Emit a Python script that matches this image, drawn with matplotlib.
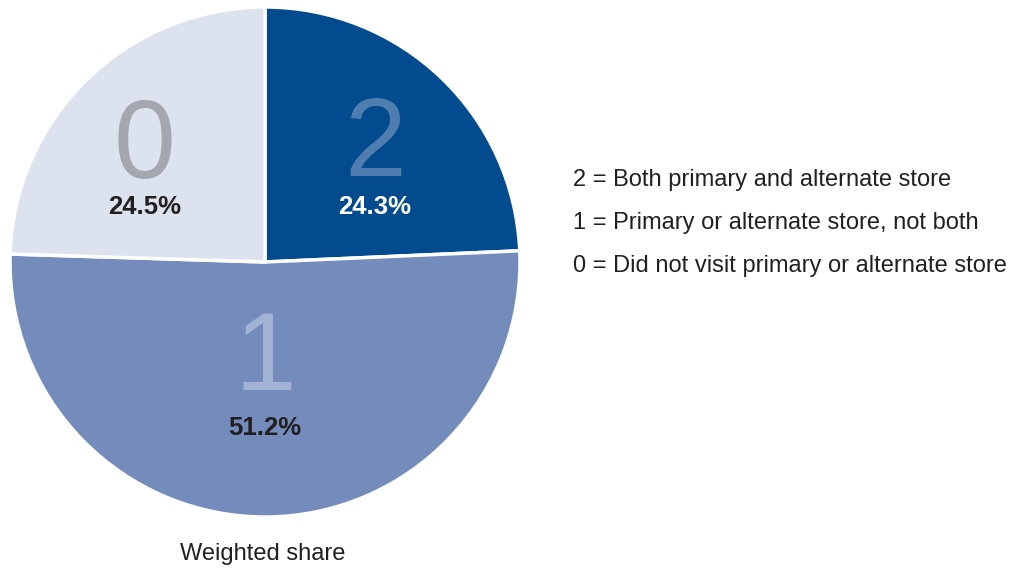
import matplotlib.pyplot as plt

plt.rcParams['font.family'] = ['Liberation Sans', 'DejaVu Sans']

# slices in drawing order, clockwise from 12 o'clock
codes = ["2", "1", "0"]
shares = [24.3, 51.2, 24.5]
legend_lines = [
    "2 = Both primary and alternate store",
    "1 = Primary or alternate store, not both",
    "0 = Did not visit primary or alternate store",
]
caption = "Weighted share"

slice_colors = ["#024b8e", "#738cbc", "#dde2ef"]
digit_colors = ["#4f7db0", "#a3b3d6", "#a5a7b0"]
pct_colors = ["white", "#231f20", "#231f20"]

fig = plt.figure(figsize=(10.23, 5.69), dpi=100)
ax = fig.add_axes([0, 0, 1, 1])

# pie in pixel-like coords (y down), so flip the direction
ax.pie(shares, colors=slice_colors, startangle=-90, counterclock=True,
       center=(265, 262), radius=255, frame=True,
       wedgeprops=dict(edgecolor="white", linewidth=2.5))
ax.set_xlim(0, 1023)
ax.set_ylim(569, 0)
ax.set_aspect("equal")
ax.axis("off")

# label positions (x, digit baseline, percent baseline)
label_pos = [(375, 176, 214), (265, 390, 435), (145, 178, 214)]
for code, share, (x, yd, yp), dc, pc in zip(codes, shares, label_pos, digit_colors, pct_colors):
    ax.text(x, yd, code, fontsize=80, color=dc, ha="center", va="baseline")
    ax.text(x, yp, f"{share:.1f}%", fontsize=18.5, fontweight="bold", color=pc,
            ha="center", va="baseline")

for i, line in enumerate(legend_lines):
    ax.text(573, 186 + 43 * i, line, fontsize=17, color="#231f20",
            ha="left", va="baseline")

ax.text(263, 560, caption, fontsize=17, color="#231f20", ha="center", va="baseline")

fig.savefig("out.png", dpi=100)
